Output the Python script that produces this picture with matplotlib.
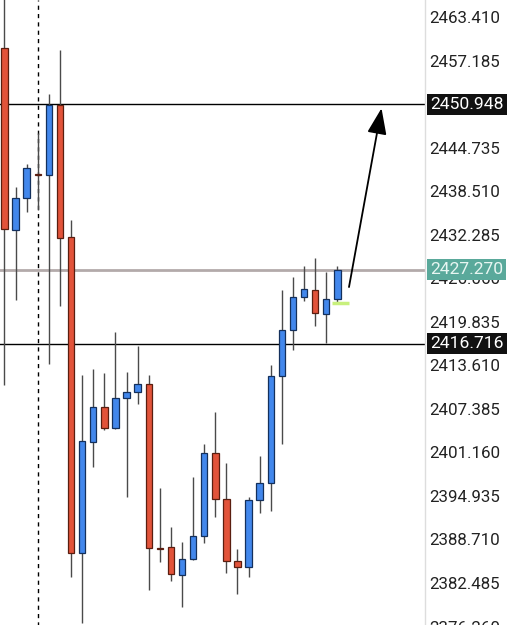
import matplotlib
matplotlib.use("Agg")
import matplotlib.pyplot as plt
import numpy as np

plt.rcParams['font.family'] = ['Roboto', 'DejaVu Sans']

# --- candle data ---
opens  = [2459.0, 2433.0, 2437.5, 2440.9, 2440.8, 2450.8, 2432.0, 2386.8, 2402.7, 2407.6,
          2404.6, 2408.9, 2409.8, 2410.9, 2387.5, 2387.6, 2383.6, 2385.9, 2389.2, 2401.1,
          2394.5, 2385.6, 2384.8, 2394.4, 2396.8, 2412.1, 2418.7, 2423.4, 2424.4, 2421.0,
          2423.1]
highs  = [2467.0, 2439.1, 2442.4, 2446.8, 2452.4, 2458.7, 2434.4, 2412.2, 2413.1, 2412.5,
          2418.4, 2412.6, 2416.4, 2412.2, 2396.1, 2390.5, 2388.4, 2397.6, 2402.4, 2406.9,
          2399.6, 2387.3, 2394.8, 2400.6, 2413.7, 2424.4, 2426.2, 2427.8, 2429.0, 2427.0,
          2427.8]
lows   = [2410.8, 2423.0, 2435.5, 2435.8, 2413.8, 2422.1, 2383.3, 2376.8, 2399.1, 2404.3,
          2404.5, 2394.8, 2408.1, 2381.5, 2385.5, 2382.8, 2379.1, 2385.8, 2388.2, 2391.9,
          2383.9, 2380.9, 2383.3, 2392.5, 2392.8, 2402.4, 2415.8, 2422.8, 2419.2, 2416.8,
          2422.5]
closes = [2433.1, 2437.5, 2441.8, 2440.8, 2450.8, 2431.8, 2386.8, 2402.8, 2407.6, 2404.6,
          2408.9, 2409.8, 2410.9, 2387.5, 2387.4, 2383.8, 2385.9, 2389.2, 2401.1, 2394.5,
          2385.6, 2384.8, 2394.4, 2396.8, 2412.1, 2418.7, 2423.4, 2424.5, 2421.1, 2423.1,
          2427.27]

tick_vals = [2463.410, 2457.185, 2444.735, 2438.510, 2432.285, 2426.060,
             2419.835, 2413.610, 2407.385, 2401.160, 2394.935, 2388.710, 2382.485, 2376.260]

target_level = 2450.948
support_level = 2416.716
last_price = 2427.270
bid_price = 2422.52
marker_index = 3

arrow_from = (31.05, 2424.8)
arrow_to = (33.98, 2450.36)

UP = '#4287ec'
DOWN = '#e2533a'

fig = plt.figure(figsize=(5.22, 6.25), dpi=100)
y_top, y_bot = 2465.84, 2374.0
px_per_unit = 6.994
ax_h = (y_top - y_bot) * px_per_unit / 625
ax = fig.add_axes([0, 1 - ax_h, 425 / 522, ax_h])
ax.set_ylim(y_bot, y_top)
ax.set_xlim(-0.405, 37.9)

x = np.arange(len(opens))
o = np.array(opens); c = np.array(closes)
up = c >= o
colors = np.where(up, UP, DOWN)
edges = np.where(up, '#14305c', '#5a1e10')
body_bottom = np.minimum(o, c)
body_h = np.maximum(np.abs(c - o), 0.12)

ax.vlines(x, lows, highs, color='#4a4a4a', lw=1.0, zorder=2)
ax.bar(x, body_h, bottom=body_bottom, width=0.58, color=colors,
       edgecolor=edges, linewidth=0.9, zorder=3)

# levels
ax.axhline(target_level, color='black', lw=1.0, zorder=1)
ax.axhline(support_level, color='black', lw=1.0, zorder=1)
ax.axhline(last_price, color='#b3aaaa', lw=2.0, zorder=1)
ax.axvline(marker_index, color='black', lw=1.0, ls=(0, (3, 3)), zorder=1)
ax.hlines(bid_price, 29.5, 31.05, color='#c8f07c', lw=2.5, zorder=4)

ax.annotate('', xy=arrow_to, xytext=arrow_from,
            arrowprops=dict(arrowstyle='-|>,head_length=0.8,head_width=0.3',
                            color='black', lw=1.3, mutation_scale=20,
                            shrinkA=0, shrinkB=0), zorder=5)

# axis styling
for s in ['top', 'left', 'bottom']:
    ax.spines[s].set_visible(False)
ax.spines['right'].set_color('#dddddd')
ax.spines['right'].set_linewidth(1.0)
ax.set_xticks([])
ax.yaxis.tick_right()
ax.set_yticks(tick_vals)
ax.set_yticklabels([f'{v:.3f}' for v in tick_vals])
ax.tick_params(axis='y', length=0, pad=3, labelsize=12.2, labelcolor='#222222')

# price labels
ytr = ax.get_yaxis_transform()
for val, fc, tc in [(target_level, '#111111', 'white'),
                    (support_level, '#111111', 'white'),
                    (last_price, '#5aa99b', '#e8f6f2')]:
    ax.text(1.012, val, f'{val:.3f}', transform=ytr, ha='left', va='center',
            fontsize=12.6, color=tc, clip_on=False, zorder=10,
            bbox=dict(boxstyle='square,pad=0.18', fc=fc, ec='none'))

fig.savefig('out.png', dpi=100)
